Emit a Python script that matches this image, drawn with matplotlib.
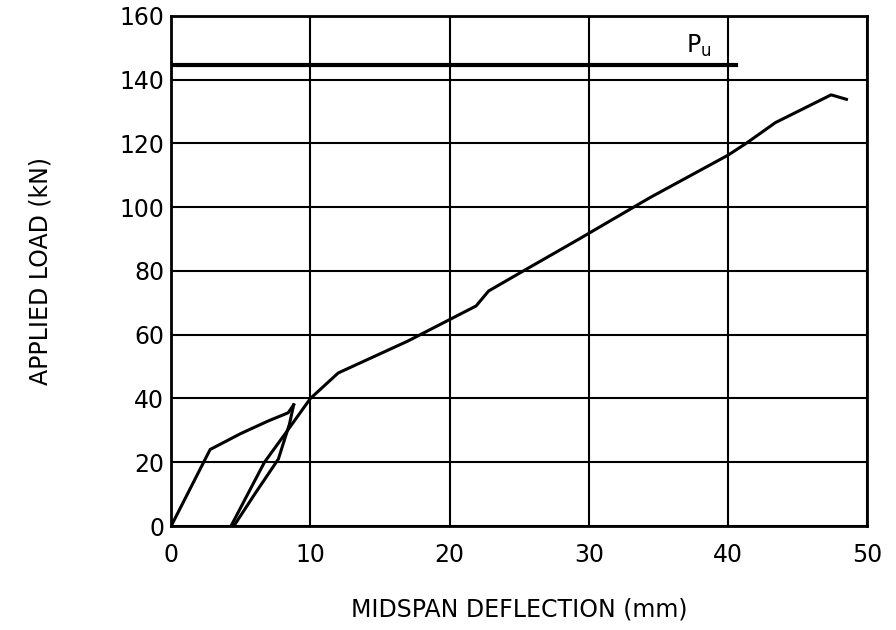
import matplotlib
matplotlib.use("Agg")
import matplotlib.pyplot as plt

# Data
load_x = [0, 2.8, 5.0, 7.0, 8.4, 8.8]
load_y = [0, 24, 29, 33, 35.5, 38]
unload_x = [8.8, 8.5, 7.7, 6.0, 4.5]
unload_y = [38, 32, 21, 10, 0]
reload_x = [4.3, 5.5, 6.7, 8.2, 10.0, 12.0, 17.0, 21.9, 22.8, 25.3, 29.3,
            34.4, 40.0, 41.3, 43.4, 47.4, 48.5]
reload_y = [0, 10, 20, 29, 40, 48, 58, 69, 73.7, 80, 90,
            103, 116.3, 120, 126.5, 135.2, 133.8]
pu_value = 144.5
pu_x_end = 40.6
x_ticks = [0, 10, 20, 30, 40, 50]
y_ticks = [0, 20, 40, 60, 80, 100, 120, 140, 160]

plt.rcParams['font.family'] = ['DejaVu Sans']
fig = plt.figure(figsize=(8.96, 6.3), dpi=100)
ax = fig.add_axes([0.191, 0.165, 0.777, 0.810])

ax.plot(load_x, load_y, color='black', lw=2.2, solid_joinstyle='round')
ax.plot(unload_x, unload_y, color='black', lw=2.2, solid_joinstyle='round')
ax.plot(reload_x, reload_y, color='black', lw=2.2, solid_joinstyle='round')
ax.plot([0, pu_x_end], [pu_value, pu_value], color='black', lw=3.0)
ax.text(37.0, pu_value + 2.0, r'P$_\mathregular{u}$', fontsize=17, ha='left', va='bottom')

ax.set_xlim(0, 50)
ax.set_ylim(0, 160)
ax.set_xticks(x_ticks)
ax.set_yticks(y_ticks)
ax.grid(True, color='black', lw=1.5)
ax.set_axisbelow(True)
for s in ax.spines.values():
    s.set_linewidth(2.0)
ax.tick_params(axis='x', length=0, labelsize=17, pad=12)
ax.tick_params(axis='y', length=0, labelsize=17, pad=5)
ax.set_xlabel('MIDSPAN DEFLECTION (mm)', fontsize=17, labelpad=22)
ax.set_ylabel('APPLIED LOAD (kN)', fontsize=17, labelpad=48)

fig.savefig('out.png', dpi=100)
